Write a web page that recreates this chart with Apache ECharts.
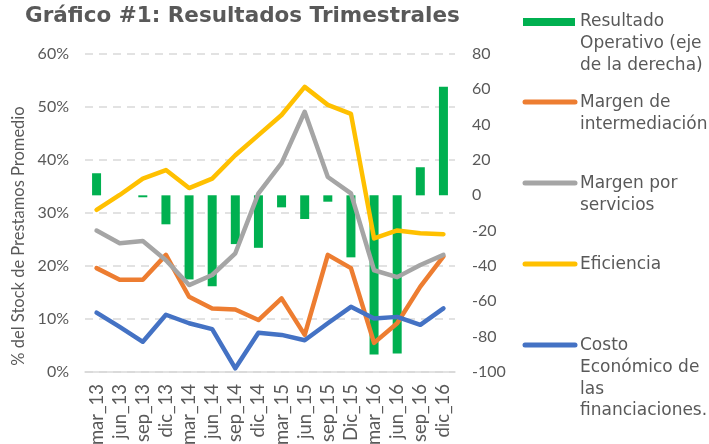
<!DOCTYPE html>
<html>
<head>
<meta charset="utf-8">
<script src="https://cdn.jsdelivr.net/npm/echarts@6/dist/echarts.min.js"></script>
<style>
  html, body { margin: 0; padding: 0; background: #fff; }
  #chart { width: 709px; height: 444px; }
</style>
</head>
<body>
<div id="chart"></div>
<script>
// quarters
const quarters = ['mar_13', 'jun_13', 'sep_13', 'dic_13', 'mar_14', 'jun_14', 'sep_14', 'dic_14',
  'mar_15', 'jun_15', 'sep_15', 'Dic_15', 'mar_16', 'jun_16', 'sep_16', 'dic_16'];

// right axis (bars)
const resultadoOperativo = [12.5, 0, -1.1, -16.4, -47.6, -51.4, -27.6, -29.7,
  -6.8, -13.4, -3.6, -35.1, -90.1, -89.5, 15.9, 61.5];

// left axis, % del stock
const margenIntermediacion = [19.6, 17.4, 17.4, 22.1, 14.2, 12.0, 11.8, 9.8,
  13.9, 7.0, 22.1, 19.6, 5.5, 9.2, 16.1, 21.8];
const margenServicios = [26.7, 24.3, 24.7, 21.1, 16.4, 18.3, 22.4, 33.7,
  39.4, 49.1, 36.8, 33.7, 19.2, 17.9, 20.2, 22.1];
const eficiencia = [30.6, 33.4, 36.5, 38.1, 34.7, 36.5, 40.9, 44.7,
  48.5, 53.8, 50.4, 48.7, 25.2, 26.7, 26.2, 26.0];
const costoEconomico = [11.2, 8.5, 5.7, 10.8, 9.2, 8.1, 0.7, 7.4,
  7.0, 6.0, 9.2, 12.3, 10.1, 10.4, 8.9, 12.0];

const leftTicks = { min: 0, max: 60, interval: 10 };
const rightTicks = { min: -100, max: 80, interval: 20 };

const txt = '#595959';
const labelFont = 'Lato, "Liberation Sans", sans-serif';
const legendFont = '"DejaVu Sans", Verdana, sans-serif';

// legend entries: [label lines, colour, kind]
const legendItems = [
  { lines: ['Resultado', 'Operativo (eje', 'de la derecha)'], color: '#00B050', kind: 'bar', y: 22 },
  { lines: ['Margen de', 'intermediación'], color: '#ED7D31', kind: 'line', y: 103 },
  { lines: ['Margen por', 'servicios'], color: '#A5A5A5', kind: 'line', y: 184 },
  { lines: ['Eficiencia'], color: '#FFC000', kind: 'line', y: 265 },
  { lines: ['Costo', 'Económico de', 'las', 'financiaciones.'], color: '#4472C4', kind: 'line', y: 346 }
];

const legendGraphics = [];
legendItems.forEach(it => {
  if (it.kind === 'bar') {
    legendGraphics.push({
      type: 'rect', left: 523, top: it.y - 4,
      shape: { width: 52, height: 8 },
      style: { fill: it.color }
    });
  } else {
    legendGraphics.push({
      type: 'line',
      shape: { x1: 525, y1: it.y - 1, x2: 575, y2: it.y - 1 },
      style: { stroke: it.color, lineWidth: 5, lineCap: 'round' }
    });
  }
  legendGraphics.push({
    type: 'text', left: 580, top: it.y - 11,
    style: {
      text: it.lines.join('\n'),
      fill: txt,
      font: '17px ' + legendFont,
      lineHeight: 21.7
    }
  });
});

const chart = echarts.init(document.getElementById('chart'));

function lineSeries(name, data, color) {
  return {
    name: name,
    type: 'line',
    yAxisIndex: 0,
    data: data,
    symbol: 'none',
    lineStyle: { color: color, width: 4.5, join: 'round', cap: 'round' },
    itemStyle: { color: color },
    z: 3
  };
}

chart.setOption({
  animation: false,
  title: {
    text: 'Gráfico #1: Resultados Trimestrales',
    left: 20,
    top: 0,
    textStyle: {
      color: txt,
      fontFamily: legendFont,
      fontWeight: 'bold',
      fontSize: 21.5
    }
  },
  grid: { left: 85, right: 254, top: 54, bottom: 72, outerBoundsMode: 'none' },
  xAxis: {
    type: 'category',
    data: quarters,
    axisLine: { lineStyle: { color: '#D9D9D9', width: 1.5 } },
    axisTick: { show: false },
    axisLabel: {
      rotate: 90,
      interval: 0,
      margin: 12,
      color: txt,
      fontFamily: labelFont,
      fontSize: 18.5
    }
  },
  yAxis: [
    {
      type: 'value',
      min: leftTicks.min,
      max: leftTicks.max,
      interval: leftTicks.interval,
      name: '% del Stock de Prestamos Promedio',
      nameLocation: 'middle',
      nameGap: 58,
      nameTextStyle: {
        color: txt,
        fontFamily: labelFont,
        fontSize: 16.5,
        padding: [0, 46, 0, 0]
      },
      axisLabel: {
        formatter: '{value}%',
        margin: 16,
        color: txt,
        fontFamily: labelFont,
        fontSize: 16
      },
      axisLine: { show: false },
      axisTick: { show: false },
      splitLine: { lineStyle: { color: '#D9D9D9', type: [8, 6], width: 1.5 } }
    },
    {
      type: 'value',
      min: rightTicks.min,
      max: rightTicks.max,
      interval: rightTicks.interval,
      position: 'right',
      axisLabel: {
        margin: 17,
        color: txt,
        fontFamily: labelFont,
        fontSize: 16
      },
      axisLine: { show: false },
      axisTick: { show: false },
      splitLine: { show: false }
    }
  ],
  graphic: legendGraphics,
  series: [
    {
      name: 'Resultado Operativo (eje de la derecha)',
      type: 'bar',
      yAxisIndex: 1,
      data: resultadoOperativo,
      barWidth: 9,
      itemStyle: { color: '#00B050' },
      z: 2
    },
    lineSeries('Margen de intermediación', margenIntermediacion, '#ED7D31'),
    lineSeries('Margen por servicios', margenServicios, '#A5A5A5'),
    lineSeries('Eficiencia', eficiencia, '#FFC000'),
    lineSeries('Costo Económico de las financiaciones.', costoEconomico, '#4472C4')
  ]
});
</script>
</body>
</html>
